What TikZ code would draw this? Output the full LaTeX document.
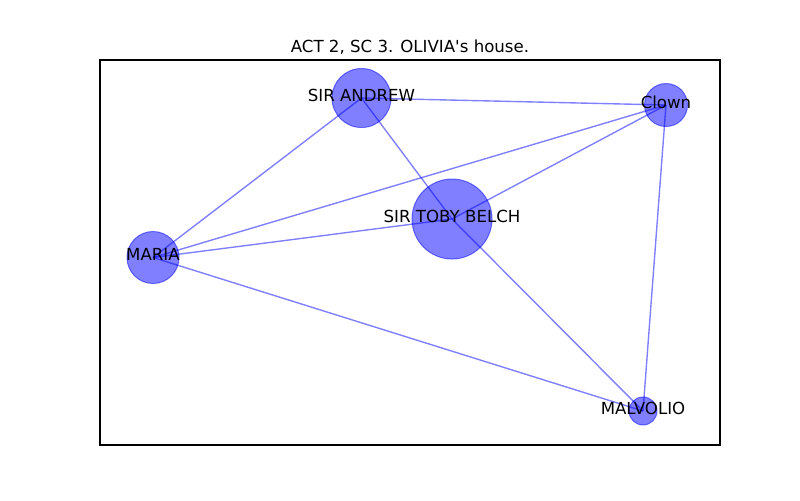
\documentclass[tikz,border=0pt]{standalone}
\usepackage{fontspec}
\setmainfont{DejaVu Sans}[Ligatures=TeXOff]
\tikzset{
  actor/.style={circle, inner sep=0pt, fill=blue, draw=blue, opacity=0.5, line width=0.7pt},
  tie/.style={blue, opacity=0.5, line width=1pt},
  actorlabel/.style={anchor=base, inner sep=0pt}
}
\begin{document}
\begin{tikzpicture}[x=0.01in, y=-0.01in, font=\fontsize{12}{14}\selectfont]
  \useasboundingbox (0,0) rectangle (800,500);
  % Character positions
  \coordinate (andrew)   at (361.5, 98);
  \coordinate (clown)    at (666, 105);
  \coordinate (toby)     at (452, 219);
  \coordinate (maria)    at (153, 257.5);
  \coordinate (malvolio) at (643, 411);
  % Edges
  \foreach \a/\b in {andrew/clown, andrew/maria, andrew/toby, toby/malvolio,
                     toby/clown, toby/maria, clown/maria, clown/malvolio,
                     maria/malvolio} {
    \draw[tie] (\a) -- (\b);
  }
  % Character circles
  \foreach \n/\d in {andrew/0.59in, clown/0.43in, toby/0.80in,
                     maria/0.52in, malvolio/0.28in} {
    \node[actor, minimum size=\d] (\n-dot) at (\n) {};
  }
  % Labels
  \foreach \n/\lab in {andrew/SIR ANDREW, clown/Clown, toby/SIR TOBY BELCH,
                       maria/MARIA, malvolio/MALVOLIO} {
    \node[actorlabel] (\n-lab) at ([yshift=-0.03in]\n) {\lab};
  }
  % Axes frame and title
  \draw[line width=0.8pt] (100,60) rectangle (720,445);
  \node[actorlabel] (title) at (410,52) {ACT 2, SC 3. OLIVIA's house.};
\end{tikzpicture}
\end{document}
